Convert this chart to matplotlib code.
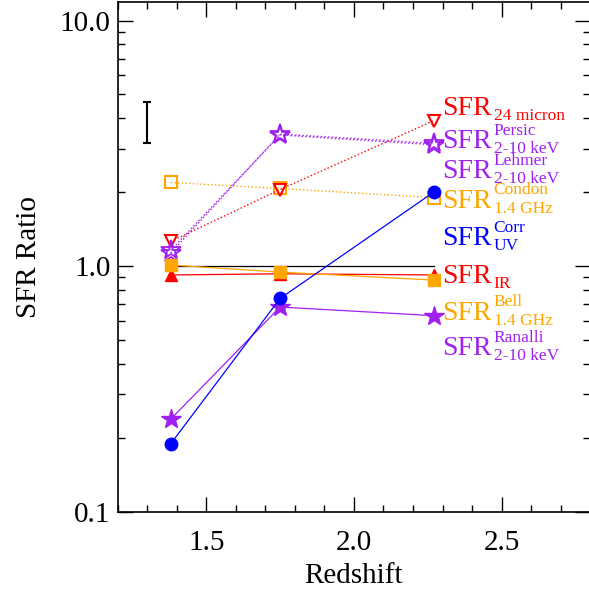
import numpy as np
import matplotlib
matplotlib.use("Agg")
import matplotlib.pyplot as plt
import matplotlib.transforms as mtransforms
from matplotlib.ticker import LogLocator, MultipleLocator, FixedLocator, NullFormatter

plt.rcParams['font.family'] = ['Liberation Serif', 'DejaVu Serif']

# redshift bins
redshift = [1.38, 1.75, 2.27]

# SFR ratios per indicator
sfr_ir = [0.92, 0.93, 0.92]
sfr_bell = [1.01, 0.945, 0.877]
sfr_uv_corr = [0.189, 0.738, 2.0]
sfr_ranalli = [0.238, 0.681, 0.628]
sfr_24micron = [1.26, 2.05, 3.91]
sfr_persic = [1.16, 3.42, 3.12]
sfr_lehmer = [1.13, 3.45, 3.16]
sfr_condon = [2.19, 2.07, 1.90]
unity = [1.0, 1.0, 1.0]

# typical error bar
err_x = 1.3
err_lo, err_hi = 3.17, 4.65

# legend labels: (superscript, subscript)
label_sup = ['', 'Persic', 'Lehmer', 'Condon', 'Corr', '', 'Bell', 'Ranalli']
label_sub = ['24 micron', '2-10 keV', '2-10 keV', '1.4 GHz', 'UV', 'IR', '1.4 GHz', '2-10 keV']
label_colors = ['red', '#A020F0', '#A020F0', 'orange', 'blue', 'red', 'orange', '#A020F0']
label_y = [4.13, 3.03, 2.29, 1.73, 1.22, 0.855, 0.605, 0.435]

PURPLE = '#A020F0'

fig = plt.figure(figsize=(5.89, 6.06), dpi=100)
ax = fig.add_axes([0.1997, 0.1558, 0.8024, 0.8409])

ax.plot(redshift, unity, color='black', lw=0.9)

# dotted (open symbols)
ax.plot(redshift, sfr_condon, ls=':', color='orange', lw=1.0, marker='s', ms=9,
        mfc='none', mec='orange', mew=1.5)
ax.plot(redshift, sfr_24micron, ls=':', color='red', lw=1.0, marker='v', ms=9,
        mfc='none', mec='red', mew=1.5)
ax.plot(redshift, sfr_lehmer, ls=':', color=PURPLE, lw=1.0, marker='*', ms=15,
        mfc='none', mec=PURPLE, mew=1.3)
ax.plot(redshift, sfr_persic, ls=':', color=PURPLE, lw=1.0, marker='*', ms=15,
        mfc='none', mec=PURPLE, mew=1.3)

# solid (filled symbols)
ax.plot(redshift, sfr_ir, color='red', lw=0.9, marker='^', ms=8, mfc='red', mec='red')
ax.plot(redshift, sfr_bell, color='orange', lw=0.9, marker='s', ms=9, mfc='orange', mec='orange')
ax.plot(redshift, sfr_ranalli, color=PURPLE, lw=0.9, marker='*', ms=15, mfc=PURPLE, mec=PURPLE)
ax.plot(redshift, sfr_uv_corr, color='blue', lw=0.9, marker='o', ms=9, mfc='blue', mec='blue')

mid = np.sqrt(err_lo * err_hi)
ax.errorbar([err_x], [mid], yerr=[[mid - err_lo], [err_hi - mid]],
            color='black', lw=1.5, capsize=3, capthick=1.5)

ax.set_yscale('log')
ax.set_xlim(1.2, 2.8)
ax.set_ylim(0.1, 11.9)

# SFR labels with super/subscripts
renderer = fig.canvas.get_renderer()
for sup, sub, col, yy in zip(label_sup, label_sub, label_colors, label_y):
    t = ax.text(2.30, yy, 'SFR', color=col, fontsize=20, va='baseline', ha='left')
    w = t.get_window_extent(renderer).width * 72.0 / fig.dpi + 1.0
    if sup:
        tr = mtransforms.offset_copy(ax.transData, fig=fig, x=w, y=9.5, units='points')
        ax.text(2.30, yy, sup, color=col, fontsize=12.5, va='baseline', ha='left', transform=tr)
    if sub:
        tr = mtransforms.offset_copy(ax.transData, fig=fig, x=w, y=-3.8, units='points')
        ax.text(2.30, yy, sub, color=col, fontsize=12.5, va='baseline', ha='left', transform=tr)

ax.yaxis.set_major_locator(FixedLocator([0.1, 1.0, 10.0]))
ax.set_yticklabels(['0.1', '1.0', '10.0'])
ax.yaxis.set_minor_locator(LogLocator(base=10, subs=np.arange(2, 10)))
ax.yaxis.set_minor_formatter(NullFormatter())
ax.xaxis.set_major_locator(FixedLocator([1.5, 2.0, 2.5]))
ax.set_xticklabels(['1.5', '2.0', '2.5'])
ax.xaxis.set_minor_locator(MultipleLocator(0.1))

ax.tick_params(which='both', direction='in', top=True, right=True, labelsize=21, width=1)
ax.tick_params(which='major', length=11)
ax.tick_params(which='minor', length=5)
ax.tick_params(axis='x', pad=13)
ax.tick_params(axis='y', pad=5)
for s in ax.spines.values():
    s.set_linewidth(1.2)

ax.set_xlabel('Redshift', fontsize=21, labelpad=5)
ax.set_ylabel('SFR Ratio', fontsize=21, labelpad=13)

fig.savefig('out.png', dpi=100)
